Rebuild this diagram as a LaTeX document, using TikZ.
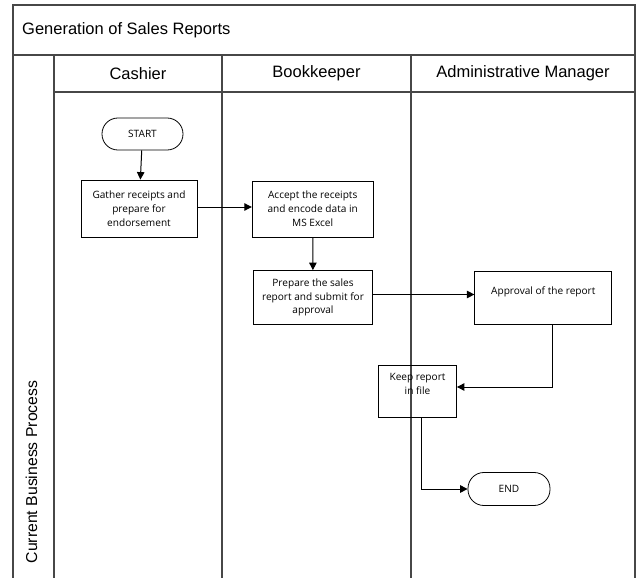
\documentclass[tikz,border=0pt]{standalone}
\usepackage{fontspec}
\setmainfont{Liberation Sans}
\newfontfamily\boxfont{Open Sans}
\usetikzlibrary{arrows.meta}

\tikzset{
  pool/.style={draw=black!72, line width=1.1pt},
  headtext/.style={font=\fontsize{16.5}{20}\selectfont, inner sep=0pt},
  proc/.style={draw=black, line width=0.8pt, inner sep=0pt, align=center,
               font=\boxfont\fontsize{10.1}{13.8}\selectfont},
  term/.style={proc, rounded corners=15.9pt},
  flow/.style={draw=black, line width=1pt, -{Triangle[length=7.5pt,width=7.5pt]}}
}

\begin{document}
\begin{tikzpicture}[x=1pt,y=-1pt]
\useasboundingbox (0,0) rectangle (637,578);

% pool frame, title row and lane header row
\draw[pool] (13,578) |- (635,5) -- (635,578);
\draw[pool] (13,55) -- (635,55);
\draw[pool] (54,92) -- (635,92);
\draw[pool] (54,55) -- (54,578);
\draw[pool] (222,55) -- (222,578);
\draw[pool] (411,55) -- (411,578);

\node[headtext, anchor=west] (title) at (22,30) {Generation of Sales Reports};
\node[headtext] (cashier) at (138,73.5) {Cashier};
\node[headtext] (bookkeeper) at (316.5,73.5) {Bookkeeper};
\node[headtext] (manager) at (523,73.5) {Administrative Manager};
\node[headtext, font=\fontsize{15.8}{19}\selectfont, rotate=90, anchor=base]
  (process) at (37,472) {Current Business Process};

% process steps
\node[term, minimum width=81pt, minimum height=32pt] (start) at (142.5,134) {START};
\node[proc, minimum width=116pt, minimum height=57pt] (gather) at (139,208.5)
  {Gather receipts and\\prepare for\\endorsement};
\node[proc, minimum width=121pt, minimum height=56pt] (accept) at (312.7,209)
  {Accept the receipts\\and encode data in\\MS Excel};
\node[proc, minimum width=119pt, minimum height=54pt] (prepare) at (313,297.5)
  {Prepare the sales\\report and submit for\\approval};
\node[proc, minimum width=137pt, minimum height=53pt] (approval) at (543.3,297.5)
  {Approval of the report\\\mbox{}};
\node[proc, minimum width=78pt, minimum height=52pt] (keep) at (417.5,391)
  {Keep report\\in file\\\mbox{}};
\node[term, minimum width=82pt, minimum height=33pt] (end) at (509,489) {END};

% connectors
\draw[flow] (start) -- (gather);
\draw[flow] ([yshift=1.5pt]gather.east) -- ([yshift=1.5pt]gather.east -| accept.west);
\draw[flow] (accept) -- (prepare);
\draw[flow] ([yshift=3pt]prepare.east) -- ([yshift=3pt]prepare.east -| approval.west);
\draw[flow] ([xshift=9.5pt]approval.south) |- ([yshift=4pt]keep.east);
\draw[flow] ([xshift=3.5pt]keep.south) |- (end.west);
\end{tikzpicture}
\end{document}
